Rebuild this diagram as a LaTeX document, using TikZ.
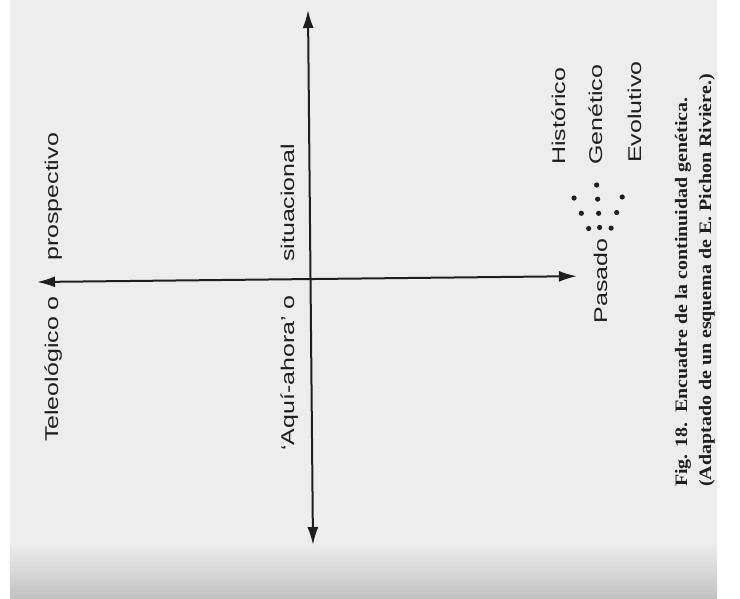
\documentclass[tikz,border=0pt]{standalone}
\usepackage{fontspec}
\usetikzlibrary{arrows.meta,positioning,calc}
\newfontfamily\letterfont[FakeStretch=1.35]{Liberation Sans}
\newfontfamily\capfont[FakeStretch=1.14]{Liberation Serif Bold}

\begin{document}
\begin{tikzpicture}[x=1pt, y=1pt,
    lbl/.style={rotate=90, inner sep=0pt, text=black!88, font=\letterfont\fontsize{18.5}{22}\selectfont},
    captext/.style={rotate=90, inner sep=0pt, anchor=base west, text=black!88, font=\capfont\fontsize{17.5}{21}\selectfont},
    axis/.style={{Latex[length=18pt,width=11pt]}-{Latex[length=18pt,width=11pt]}, line width=2pt, black!88},
    dots/.style={line width=5.2pt, line cap=round, black!88, shorten <=11pt, shorten >=20pt},
]
% Paper
\fill[white] (0,0) rectangle (740,598);
\fill[black!7] (10,0) rectangle (717,598);
\shade[bottom color=black!24, top color=black!7] (10,0) rectangle (717,55);
\useasboundingbox (0,0) rectangle (740,598);

% Axis ends
\coordinate (top) at (308,588);
\coordinate (bottom) at (313,53);
\coordinate (left) at (37,316);

% Labels
\node[lbl, anchor=base east] (teleo) at (58,302) {Teleológico o};
\node[lbl, anchor=base west] (prosp) at (58,337) {prospectivo};
\node[lbl, anchor=base east] (aqui) at (294,303) {‘Aquí-ahora’ o};
\node[lbl, anchor=base west] (situ) at (294,336) {situacional};
\node[lbl, anchor=base] (pasado) at (607,317) {Pasado};
\node[lbl, anchor=base west] (hist) at (565,433) {Histórico};
\node[lbl, anchor=base west] (gen) at (602,433) {Genético};
\node[lbl, anchor=base west] (evol) at (641,435) {Evolutivo};

% Axes
\draw[axis] (bottom) -- (top);
\draw[axis, shorten >=16.5pt] (left) -- ([yshift=5pt]pasado.north);

% Dotted fan
\draw[dots, dash pattern=on 0pt off 16.9pt] (pasado.north east) -- (hist.west);
\draw[dots, dash pattern=on 0pt off 14.2pt] (pasado.east) -- (gen.west);
\draw[dots, dash pattern=on 0pt off 16.5pt] (pasado.south east) -- (evol.west);

% Caption
\node[captext] (cap1) at (687,111) {Fig. 18.\ \ Encuadre de la continuidad genética.};
\node[captext] (cap2) at (711,111) {(Adaptado de un esquema de E. Pichon Rivière.)};
\end{tikzpicture}
\end{document}
